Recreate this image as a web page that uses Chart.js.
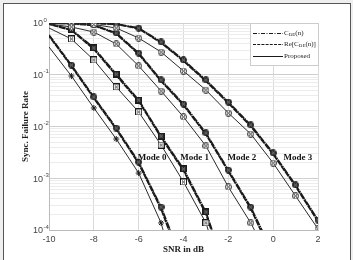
<!DOCTYPE html>
<html>
<head>
<meta charset="utf-8">
<script src="https://cdn.jsdelivr.net/npm/chart.js@4"></script>
<style>
  html, body { margin: 0; padding: 0; background: #fff; }
  #wrap { position: relative; width: 353px; height: 260px; background: #efefef; overflow: hidden; }
  #frame { position: absolute; left: 3px; top: 3px; width: 346px; height: 262px; border: 1px solid #555; background: #fff; }
  canvas { position: absolute; left: 0; top: 0; }
</style>
</head>
<body>
<div id="wrap"><div id="frame"></div><canvas id="chart"></canvas></div>
<script>
// SNR axis (dB) and decade tick exponents
const snr = [-10, -9, -8, -7, -6, -5, -4, -3, -2, -1, 0, 1, 2];
const decades = [-4, -3, -2, -1, 0];
const xTicks = [-10, -8, -6, -4, -2, 0, 2];

// Mode 0
const mode0DE   = [0.586, 0.154, 0.0372, 0.00935, 0.00206, 0.000278, 0.000022, null, null, null, null, null, null];
const mode0Re   = [0.560, 0.146, 0.0352, 0.00885, 0.00192, 0.000255, 0.000017, null, null, null, null, null, null];
const mode0Prop = [0.344, 0.0946, 0.0228, 0.00573, 0.00126, 0.000137, 0.000004, null, null, null, null, null, null];
// Mode 1
const mode1DE   = [0.957, 0.749, 0.329, 0.103, 0.0325, 0.00655, 0.00151, 0.000223, 0.000012, null, null, null, null];
const mode1Re   = [0.950, 0.722, 0.312, 0.097, 0.0307, 0.00615, 0.00140, 0.000205, 0.000010, null, null, null, null];
const mode1Prop = [0.800, 0.491, 0.193, 0.058, 0.0191, 0.00439, 0.000847, 0.000137, 0.000006, null, null, null, null];
// Mode 2
const mode2DE   = [0.995, 0.978, 0.915, 0.641, 0.263, 0.0792, 0.0272, 0.00749, 0.00144, 0.000278, 0.000035, null, null];
const mode2Re   = [0.993, 0.972, 0.900, 0.618, 0.250, 0.0750, 0.0258, 0.00705, 0.00135, 0.000258, 0.000030, null, null];
const mode2Prop = [0.957, 0.837, 0.670, 0.393, 0.148, 0.0485, 0.0153, 0.00420, 0.000678, 0.000137, 0.000020, null, null];
// Mode 3
const mode3DE   = [1.0, 0.998, 0.991, 0.957, 0.800, 0.430, 0.193, 0.0792, 0.0297, 0.0107, 0.00308, 0.000741, 0.000156];
const mode3Re   = [1.0, 0.997, 0.988, 0.948, 0.780, 0.414, 0.184, 0.0752, 0.0282, 0.0101, 0.00290, 0.000695, 0.000146];
const mode3Prop = [0.998, 0.978, 0.935, 0.800, 0.513, 0.275, 0.118, 0.0507, 0.0182, 0.00716, 0.00197, 0.000454, 0.000105];

const modeLabels = ['Mode 0', 'Mode 1', 'Mode 2', 'Mode 3'];
const modeLabelX = [-5.4, -3.5, -1.4, 1.1];
const modeLabelY = 0.0025;

const ink = '#1a1a1a';

// small marker images
function marker(shape, filled) {
  const c = document.createElement('canvas');
  c.width = 7; c.height = 7;
  const g = c.getContext('2d');
  g.strokeStyle = ink; g.lineWidth = 1;
  g.fillStyle = filled ? '#2a2a2a' : '#fff';
  if (shape === 'sq') {
    g.fillRect(0, 0, 7, 7); g.strokeRect(0.5, 0.5, 6, 6);
  } else {
    g.beginPath(); g.arc(3.5, 3.5, 3, 0, Math.PI * 2); g.fill(); g.stroke();
  }
  g.strokeStyle = filled ? '#8a8a8a' : ink;
  g.beginPath();
  g.moveTo(2, 2); g.lineTo(5, 5); g.moveTo(5, 2); g.lineTo(2, 5);
  g.stroke();
  return c;
}
const dotFill = marker('dot', true), dotX = marker('dot', false);
const sqFill = marker('sq', true), sqX = marker('sq', false);

const pr = (ctx) => ctx.dataIndex === 0 ? 0 : 3;

function pair(de, re, style) {
  return [
    { data: de, borderColor: ink, borderWidth: 1.7, borderDash: [7, 0.8, 1.5, 0.8],
      pointStyle: style, pointRadius: pr, backgroundColor: '#333' },
    { data: re, borderColor: ink, borderWidth: 1.7, borderDash: [6, 0.8], borderDashOffset: 3, pointRadius: 0 }
  ];
}
function prop(vals, style) {
  return { data: vals, borderColor: '#2a2a2a', borderWidth: 1, pointStyle: style,
    pointRadius: pr, backgroundColor: '#fff', pointBorderColor: ink, pointBorderWidth: 1 };
}

const datasets = [
  prop(mode0Prop, 'star'), prop(mode1Prop, sqX), prop(mode2Prop, dotX), prop(mode3Prop, dotX),
  ...pair(mode0DE, mode0Re, dotFill), ...pair(mode1DE, mode1Re, sqFill),
  ...pair(mode2DE, mode2Re, dotFill), ...pair(mode3DE, mode3Re, dotFill)
];
datasets.forEach(d => { d.spanGaps = false; d.fill = false; d.tension = 0; });

// draws y tick labels (10^n), mode labels and the legend box
const overlay = {
  id: 'overlay',
  afterDraw(chart) {
    const ctx = chart.ctx, x = chart.scales.x, y = chart.scales.y;
    ctx.save();
    ctx.fillStyle = '#444';
    decades.forEach(e => {
      const py = y.getPixelForValue(Math.pow(10, e));
      ctx.font = '9px "Liberation Sans"';
      ctx.textAlign = 'right'; ctx.textBaseline = 'middle';
      ctx.fillText('10', 43, py + 1);
      ctx.font = '6px "Liberation Sans"';
      ctx.textAlign = 'left';
      ctx.fillText(String(e), 43.5, py - 3);
    });

    ctx.fillStyle = '#111';
    ctx.font = 'bold 9px "Liberation Serif"';
    ctx.textAlign = 'center'; ctx.textBaseline = 'middle';
    modeLabels.forEach((t, i) => {
      ctx.fillText(t, x.getPixelForValue(modeLabelX[i]), y.getPixelForValue(modeLabelY));
    });

    // legend
    const bx = 250, by = 23, bw = 68, bh = 42;
    ctx.fillStyle = '#fff'; ctx.strokeStyle = '#ccc'; ctx.lineWidth = 1;
    ctx.fillRect(bx, by, bw, bh); ctx.strokeRect(bx + 0.5, by + 0.5, bw, bh);
    const rows = [
      { dash: [4, 1.5, 1, 1.5], y: 33, parts: [['C', 7], ['DE', 5, 2], ['(n)', 7]] },
      { dash: [3, 1.2], y: 44, parts: [['Re[C', 7], ['DE', 5, 2], ['(n)]', 7]] },
      { dash: [], y: 56, parts: [['Proposed', 7]] }
    ];
    rows.forEach(r => {
      ctx.strokeStyle = ink; ctx.lineWidth = 1; ctx.setLineDash(r.dash);
      ctx.beginPath(); ctx.moveTo(253, r.y + 0.5); ctx.lineTo(283, r.y + 0.5); ctx.stroke();
      ctx.setLineDash([]);
      let px = 284;
      ctx.fillStyle = '#222'; ctx.textAlign = 'left'; ctx.textBaseline = 'middle';
      r.parts.forEach(([t, s, dy]) => {
        ctx.font = s + 'px "Liberation Serif"';
        ctx.fillText(t, px, r.y + (dy || 0));
        px += ctx.measureText(t).width;
      });
    });
    ctx.restore();
  }
};

const yGrid = [];
decades.forEach(e => {
  for (let m = 1; m <= 9; m++) {
    if (e === 0 && m > 1) break;
    yGrid.push(m * Math.pow(10, e));
  }
});

const canvas = document.getElementById('chart');
canvas.width = 353; canvas.height = 260;
canvas.style.width = '353px'; canvas.style.height = '260px';

new Chart(canvas, {
  type: 'line',
  data: { labels: snr, datasets: datasets.map(d => ({ ...d, data: d.data.map((v, i) => ({ x: snr[i], y: v })) })) },
  options: {
    responsive: false,
    animation: false,
    devicePixelRatio: 1,
    layout: { padding: { top: 23, right: 35, left: 16, bottom: 0 } },
    plugins: { legend: { display: false }, tooltip: { enabled: false } },
    scales: {
      x: {
        type: 'linear', min: -10, max: 2,
        afterBuildTicks: s => { s.ticks = xTicks.map(v => ({ value: v })); },
        afterFit: s => { s.height = 30; },
        ticks: { color: '#444', font: { family: 'Liberation Sans', size: 9 }, padding: 4 },
        grid: { color: '#dadada', drawTicks: false },
        border: { color: '#bbb' },
        title: { display: true, text: 'SNR in dB', color: '#222',
          font: { family: 'Liberation Serif', size: 9, weight: 'bold' }, padding: { top: 0, bottom: 5 } }
      },
      y: {
        type: 'logarithmic', min: 1e-4, max: 1,
        afterBuildTicks: s => { s.ticks = yGrid.map(v => ({ value: v })); },
        afterFit: s => { s.width = 33; },
        ticks: { display: false },
        grid: {
          drawTicks: false,
          color: c => {
            const l = Math.log10(c.tick.value);
            return Math.abs(l - Math.round(l)) < 1e-6 ? '#cfcfcf' : '#ececec';
          }
        },
        border: { color: '#bbb' },
        title: { display: true, text: 'Sync. Failure Rate', color: '#222',
          font: { family: 'Liberation Serif', size: 9, weight: 'bold' }, padding: { top: 4, bottom: 0 } }
      }
    }
  },
  plugins: [overlay]
});
</script>
</body>
</html>
